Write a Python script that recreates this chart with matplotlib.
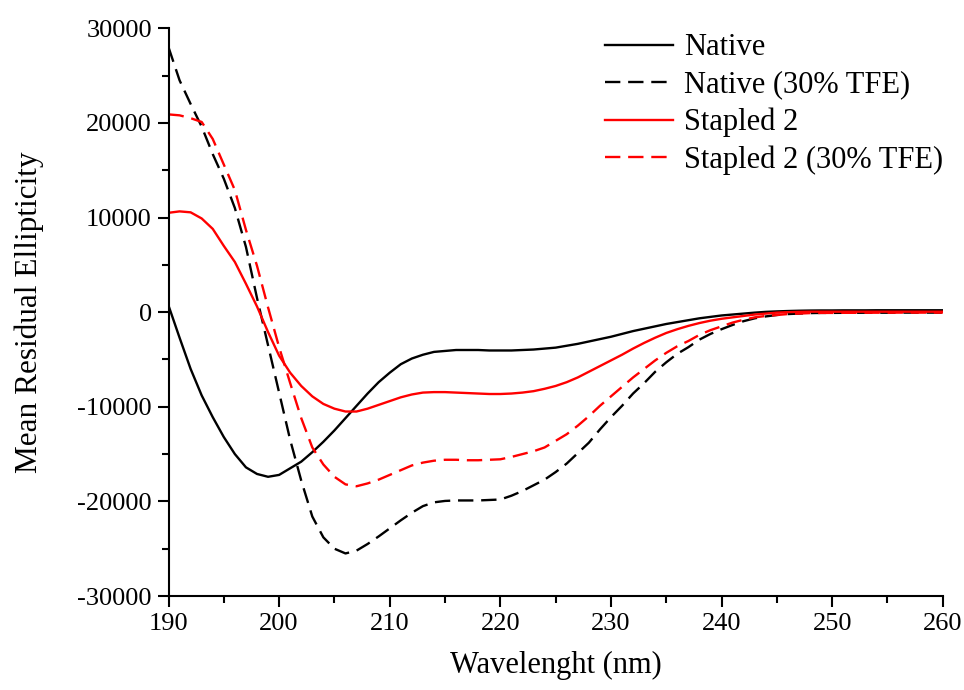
import numpy as np
import matplotlib
matplotlib.use("Agg")
import matplotlib.pyplot as plt
from matplotlib.ticker import MultipleLocator

wavelength = np.arange(190, 261)

native = [
    700, -2700, -6000, -8800, -11100, -13200, -15000, -16400, -17100, -17400,
    -17200, -16500, -15800, -14800, -13700, -12500, -11200, -9900, -8600, -7400,
    -6400, -5500, -4900, -4500, -4200, -4100, -4000, -4000, -4000, -4050,
    -4050, -4050, -4000, -3950, -3850, -3750, -3550, -3350, -3100, -2850,
    -2600, -2300, -2000, -1750, -1500, -1250, -1050, -850, -650, -500,
    -350, -250, -150, -50, 30, 80, 120, 150, 170, 180,
    180, 190, 190, 190, 200, 200, 200, 200, 200, 200,
    200,
]

native_tfe = [
    28000, 24500, 22000, 19600, 16700, 14100, 11000, 6900, 1500, -3500,
    -8500, -13500, -17800, -21600, -23800, -25000, -25500, -25200, -24500, -23700,
    -22850, -22000, -21200, -20500, -20100, -19950, -19900, -19900, -19900, -19850,
    -19800, -19400, -18900, -18300, -17700, -16900, -16000, -14900, -13800, -12400,
    -11100, -9900, -8600, -7500, -6300, -5300, -4400, -3700, -2900, -2300,
    -1800, -1350, -950, -650, -450, -300, -200, -150, -100, -80,
    -80, -70, -70, -60, -60, -60, -50, -50, -50, -50,
    -50,
]

stapled2 = [
    10500, 10650, 10550, 9900, 8800, 7000, 5300, 3000, 600, -2100,
    -4600, -6400, -7800, -8900, -9700, -10200, -10500, -10500, -10200, -9800,
    -9400, -9000, -8700, -8500, -8450, -8450, -8500, -8550, -8600, -8650,
    -8650, -8600, -8500, -8350, -8100, -7800, -7400, -6900, -6300, -5700,
    -5100, -4500, -3850, -3250, -2700, -2200, -1800, -1450, -1150, -900,
    -700, -550, -400, -250, -150, -50, 0, 30, 50, 50,
    50, 50, 50, 50, 50, 50, 50, 50, 50, 50,
    50,
]

stapled2_tfe = [
    20900, 20800, 20500, 20100, 18300, 15600, 12900, 8700, 4900, 500,
    -3700, -7500, -11200, -14300, -16100, -17400, -18200, -18400, -18100, -17700,
    -17200, -16700, -16200, -15900, -15700, -15600, -15600, -15650, -15650, -15600,
    -15550, -15300, -15000, -14700, -14300, -13600, -12900, -12000, -11000, -9900,
    -8900, -7900, -6900, -6000, -5100, -4300, -3600, -3050, -2400, -1900,
    -1500, -1100, -800, -550, -400, -300, -200, -150, -100, -80,
    -80, -70, -70, -60, -60, -60, -50, -50, -50, -50,
    -50,
]

series_labels = ["Native", "Native (30% TFE)", "Stapled 2", "Stapled 2 (30% TFE)"]
x_ticks = [190, 200, 210, 220, 230, 240, 250, 260]
y_ticks = [-30000, -20000, -10000, 0, 10000, 20000, 30000]

plt.rcParams["font.family"] = ["Liberation Serif", "DejaVu Serif"]

fig = plt.figure(figsize=(9.64, 6.9), dpi=100)
ax = fig.add_axes([0.1748, 0.1362, 0.8032, 0.8228])

lw = 1.7
dash = (6.5, 3.3)
ax.plot(wavelength, native, color="black", lw=lw, label=series_labels[0])
ax.plot(wavelength, native_tfe, color="black", lw=lw, dashes=dash, label=series_labels[1])
ax.plot(wavelength, stapled2, color="red", lw=lw, label=series_labels[2])
ax.plot(wavelength, stapled2_tfe, color="red", lw=lw, dashes=dash, label=series_labels[3])

ax.set_xlim(190, 260)
ax.set_ylim(-30000, 30000)
ax.set_xticks(x_ticks)
ax.set_yticks(y_ticks)
ax.set_yticklabels([str(v) for v in y_ticks])
ax.xaxis.set_minor_locator(MultipleLocator(5))
ax.yaxis.set_minor_locator(MultipleLocator(5000))

for side in ("top", "right"):
    ax.spines[side].set_visible(False)
for side in ("left", "bottom"):
    ax.spines[side].set_linewidth(1.5)

ax.tick_params(which="major", direction="out", length=8, width=1.5, labelsize=19, pad=4)
ax.tick_params(which="minor", direction="out", length=5, width=1.5)

ax.set_xlabel("Wavelenght (nm)", fontsize=22, labelpad=12)
ax.set_ylabel("Mean Residual Ellipticity", fontsize=22.5, labelpad=24)

ax.legend(loc="upper right", bbox_to_anchor=(1.0, 0.991), frameon=False, fontsize=22,
          handlelength=2.2, handletextpad=0.36, labelspacing=0.27,
          borderaxespad=0.0, borderpad=0.0)

fig.savefig("out.png", dpi=100)
